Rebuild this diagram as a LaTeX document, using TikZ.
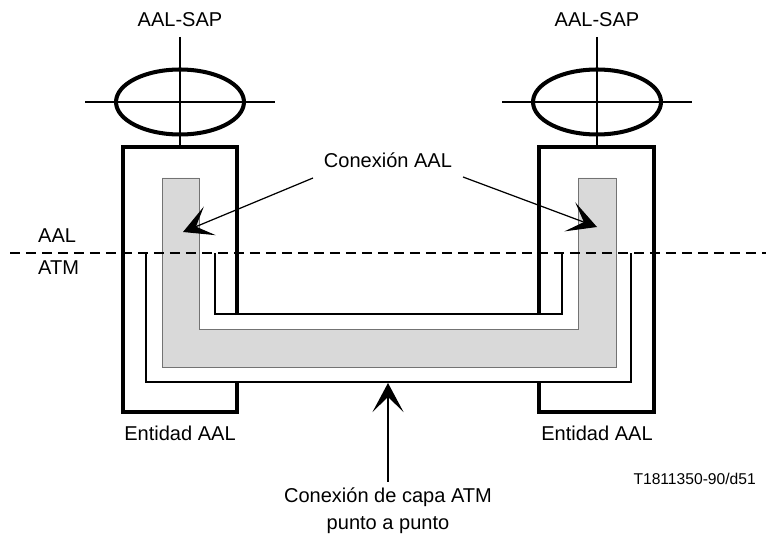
\documentclass[tikz,border=0pt]{standalone}
\usepackage{fontspec}
\setmainfont{Liberation Sans}
\usetikzlibrary{shapes.geometric, arrows.meta, positioning}

\begin{document}
\begin{tikzpicture}[
    x=0.02cm, y=-0.02cm,
    entity/.style={line width=2.3pt, line join=miter},
    sap/.style={ellipse, draw, line width=2.3pt, minimum width=2.56cm, minimum height=1.3cm, inner sep=0pt},
    cross/.style={line width=0.8pt},
    link/.style={line width=0.8pt, line join=miter},
    shaded/.style={fill=black!15, draw=black!55, line width=0.5pt},
    layer/.style={dashed, dash pattern=on 0.2cm off 0.12cm, line width=0.7pt},
    lbl/.style={font=\fontsize{11.4}{15.4}\selectfont, align=center},
    tag/.style={font=\fontsize{8.9}{10}\selectfont},
    pointer/.style={-{Stealth[length=0.58cm, width=0.62cm, inset=0.3cm]}, line width=0.7pt}
]
\useasboundingbox (0,0) rectangle (766,540);

% AAL connection (shaded U)
\draw[shaded] (162,178) -- (162,367) -- (616,367) -- (616,178) -- (578,178)
    -- (578,329) -- (199,329) -- (199,178) -- cycle;

% ATM layer connection
\draw[link] (146,253) -- (146,382) -- (631,382) -- (631,253);
\draw[link] (215,253) -- (215,314) -- (562,314) -- (562,253);

% Entities
\draw[entity] (237,315) -- (237,147) -- (123,147) -- (123,412) -- (237,412) -- (237,382);
\draw[entity] (539,315) -- (539,147) -- (654,147) -- (654,412) -- (539,412) -- (539,382);

% SAPs
\node[sap] (sapL) at (180,102) {};
\node[sap] (sapR) at (597,102) {};
\draw[cross] (sapL.center) ++(0,-65) -- (180,147);
\draw[cross] (sapL.center) ++(-95,0) -- ++(190,0);
\draw[cross] (sapR.center) ++(0,-65) -- (597,147);
\draw[cross] (sapR.center) ++(-95,0) -- ++(190,0);

% Layer boundary
\draw[layer] (10,253) -- (766,253);

% Labels
\node[lbl] (sapLtxt) at (180,20) {AAL-SAP};
\node[lbl] (sapRtxt) at (597,20) {AAL-SAP};
\node[lbl, anchor=west] (aaltxt) at (32,236) {AAL};
\node[lbl, anchor=west] (atmtxt) at (32,268) {ATM};
\node[lbl] (entL) at (180,433) {Entidad AAL};
\node[lbl] (entR) at (597,433) {Entidad AAL};
\node[lbl] (conaal) at (388,160) {Conexión AAL};
\node[lbl] (conatm) at (388,511) {Conexión de capa ATM\\punto a punto};
\node[tag, anchor=east] (ref) at (762,479) {T1811350-90/d51};

% Pointers
\coordinate (fromL) at (313,178);
\coordinate (fromR) at (463,177);
\coordinate (tipL) at (183,232);
\coordinate (tipR) at (597,227);
\coordinate (tipB) at (388,383);
\draw[pointer] (fromL) -- (tipL);
\draw[pointer] (fromR) -- (tipR);
\draw[pointer] (conatm.north) -- (tipB);

\end{tikzpicture}
\end{document}
